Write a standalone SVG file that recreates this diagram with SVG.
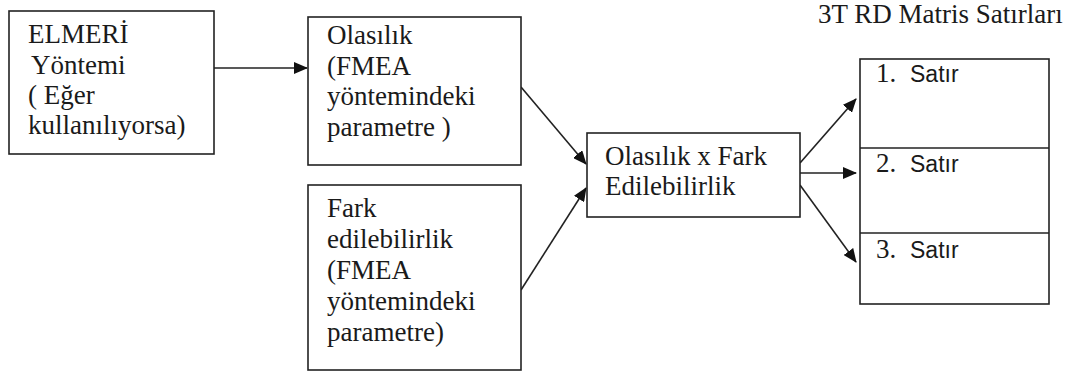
<svg xmlns="http://www.w3.org/2000/svg" width="1080" height="376" viewBox="0 0 1080 376">
<style>
.box{fill:#fff;stroke:#222;stroke-width:1.6}
.t{font-family:"Liberation Serif","Times New Roman",serif;font-size:27px;fill:#1a1a1a}
.s{font-family:"Liberation Sans",Arial,sans-serif;font-size:23px;fill:#1a1a1a}
.c{stroke:#222;stroke-width:1.6;fill:none}
</style>
<defs>
<marker id="ah" markerWidth="14" markerHeight="12" refX="13" refY="6" orient="auto" markerUnits="userSpaceOnUse">
<path d="M0,0 L14,6 L0,12 Z" fill="#111"/>
</marker>
</defs>
<rect width="1080" height="376" fill="#fff"/>
<g id="connectors">
<line class="c" x1="214" y1="68" x2="307" y2="68" marker-end="url(#ah)"/>
<line class="c" x1="521" y1="87" x2="586" y2="164" marker-end="url(#ah)"/>
<line class="c" x1="521" y1="290" x2="586" y2="188" marker-end="url(#ah)"/>
<line class="c" x1="800" y1="163" x2="856" y2="99" marker-end="url(#ah)"/>
<line class="c" x1="800" y1="173" x2="856" y2="173" marker-end="url(#ah)"/>
<line class="c" x1="800" y1="185" x2="856" y2="262" marker-end="url(#ah)"/>
</g>
<g id="elmeri">
<rect class="box" x="9" y="11" width="205" height="143"/>
<text class="t" x="28" y="43">ELMERİ</text>
<text class="t" x="31" y="74">Yöntemi</text>
<text class="t" x="28" y="104">( Eğer</text>
<text class="t" x="28" y="134">kullanılıyorsa)</text>
</g>
<g id="olasilik">
<rect class="box" x="308" y="17" width="213" height="148"/>
<text class="t" x="327" y="44">Olasılık</text>
<text class="t" x="327" y="75">(FMEA</text>
<text class="t" x="327" y="105">yöntemindeki</text>
<text class="t" x="327" y="136">parametre )</text>
</g>
<g id="fark">
<rect class="box" x="308" y="185" width="213" height="185"/>
<text class="t" x="327" y="217">Fark</text>
<text class="t" x="327" y="248">edilebilirlik</text>
<text class="t" x="327" y="279">(FMEA</text>
<text class="t" x="327" y="310">yöntemindeki</text>
<text class="t" x="327" y="341">parametre)</text>
</g>
<g id="carpim">
<rect class="box" x="587" y="133" width="213" height="84"/>
<text class="t" x="605" y="165">Olasılık x Fark</text>
<text class="t" x="605" y="195">Edilebilirlik</text>
</g>
<g id="matris">
<text class="t" x="818" y="23" font-size="24.5">3T RD Matris Satırları</text>
<rect class="box" x="860" y="59" width="189" height="245"/>
<line class="c" x1="860" y1="148" x2="1049" y2="148"/>
<line class="c" x1="860" y1="233" x2="1049" y2="233"/>
<text class="t" x="876" y="82" font-size="23">1.</text>
<text class="s" x="910" y="82">Satır</text>
<text class="t" x="876" y="172" font-size="23">2.</text>
<text class="s" x="910" y="172">Satır</text>
<text class="t" x="876" y="258" font-size="23">3.</text>
<text class="s" x="910" y="258">Satır</text>
</g>
</svg>
